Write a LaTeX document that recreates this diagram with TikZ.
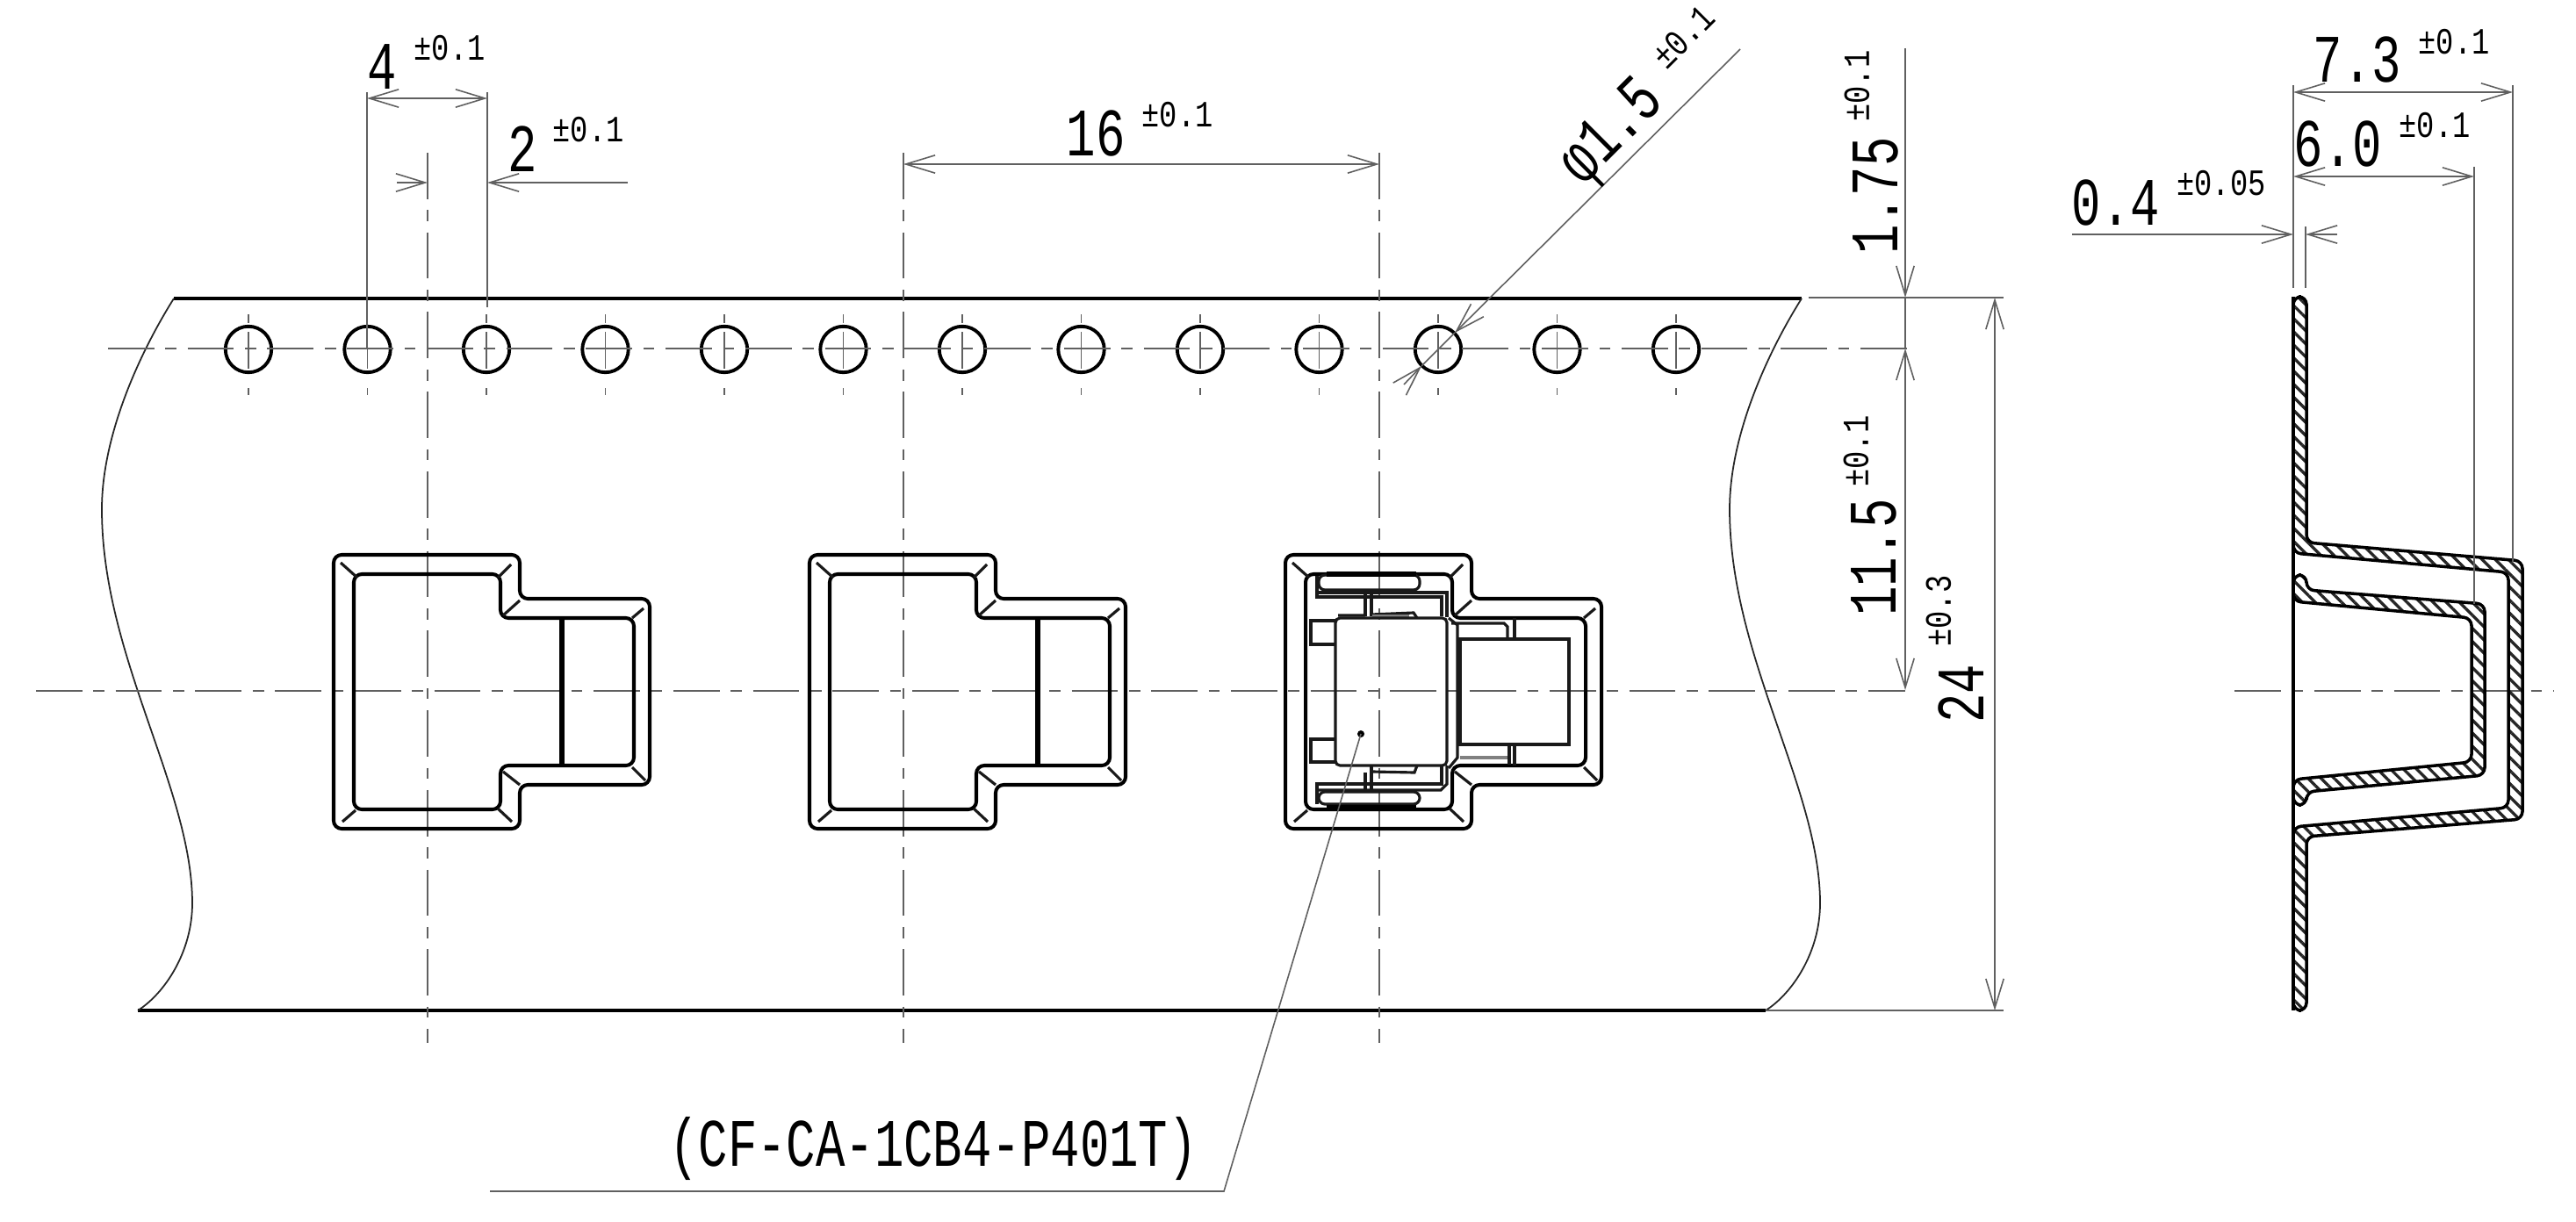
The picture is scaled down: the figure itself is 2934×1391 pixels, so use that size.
\documentclass[tikz,border=0pt]{standalone}
\usepackage{fontspec}
\newfontfamily\dimfont[FakeStretch=0.72]{Liberation Mono}
\newfontfamily\tolfont[FakeStretch=0.8]{Liberation Mono}
\usetikzlibrary{arrows.meta}
\usetikzlibrary{patterns.meta}
\tikzset{
 dimline/.style={gray!75!black, line width=.45pt, >={Straight Barb[length=9.5pt,width=5.8pt]}},
 centerline/.style={gray!75!black, line width=.45pt, dash pattern=on 15pt off 3.6pt on 3.6pt off 3.6pt},
 outline/.style={black, line width=1.15pt, rounded corners=2.6pt},
 detail/.style={black!90, line width=.9pt},
 sheet/.style={black, line width=1pt, pattern={Lines[angle=-45,distance=3pt,line width=.95pt]}, pattern color=black!85},
 dimtext/.style={inner sep=0pt, font=\dimfont\fontsize{22}{24}\selectfont},
 toltext/.style={inner sep=0pt, font=\tolfont\fontsize{12}{14}\selectfont},
}
\begin{document}
\begin{tikzpicture}[x=0.01cm, y=-0.01cm]
\useasboundingbox (0,0) rectangle (2934,1391);
% tape
\draw[black, line width=1.3pt] (198,340)--(2052,340);
\draw[black, line width=1.3pt] (157,1151)--(2011,1151);
\foreach \x in {0, 1854} {
 \draw[black!85, line width=.5pt, xshift=\x*0.01cm] (198,340) .. controls (159,402) and (116,496) .. (116,580) .. controls (116,748) and (219,898) .. (219,1029) .. controls (219,1085) and (187,1132) .. (157,1151);
}
% sprocket holes
\foreach \n in {0,...,12} {
 \pgfmathsetmacro{\hx}{283+135.5*\n}
 \draw[black, line width=1.1pt] (\hx,398) circle[radius=.262cm];
 \draw[dimline] (\hx,358)--(\hx,368) (\hx,378)--(\hx,420) (\hx,442)--(\hx,450);
}
% center lines
\draw[centerline] (123,397)--(2180,397);
\draw[centerline] (41,787)--(2170,787);
\draw[centerline] (2545,787)--(2908,787);
\foreach \x in {487, 1029, 1571} {
 \draw[centerline] (\x,174)--(\x,1188);
}
% pockets
\foreach \x in {487, 1029, 1571} {
 \begin{scope}[shift={(\x,788)}]
 \draw[outline] (-107,-156)--(105,-156)--(105,-106)--(253,-106)--(253,106)--(105,106)--(105,156)--(-107,156)--cycle;
 \draw[outline] (-84,-134)--(83,-134)--(83,-84)--(235,-84)--(235,84)--(83,84)--(83,134)--(-84,134)--cycle;
 \draw[detail] (-99,-147)--(-80,-130) (95,-145)--(80,-130) (105,-104)--(86,-87) (246,-95)--(233,-84);
 \draw[detail] (233,86)--(248,101) (86,91)--(105,106) (80,133)--(96,148) (-82,135)--(-97,148);
 \end{scope}
}
\foreach \x in {487, 1029} {
 \draw[black, line width=1.7pt] (\x+153,704)--(\x+153,872);
}
% connector in third pocket
\begin{scope}[shift={(1571,788)}]
 \draw[detail, rounded corners=2pt] (-69,-133) rectangle (46,-116);
 \draw[black, line width=1.8pt] (-60,-134)--(42,-134);
 \draw[detail] (-71,-132)--(-71,-108)--(71,-108)--(71,-86);
 \draw[detail] (-70,-113)--(77,-113)--(77,-85);
 \draw[detail] (-16,-113)--(-16,-86) (-9,-113)--(-9,-86);
 \draw[detail] (-47,-87)--(-16,-87) (-9,-88)--(39,-90)--(43,-84);
 \draw[gray, line width=1.2pt] (-8,-86)--(34,-86);
 \draw[detail, rounded corners=1.5pt] (-50,-84) rectangle (77,84);
 \draw[detail] (-50,-81)--(-78,-81)--(-78,-54)--(-50,-54);
 \draw[detail] (-50,54)--(-78,54)--(-78,80)--(-50,80);
 \draw[detail] (79,-84)--(89,-76)--(89,75)--(79,87);
 \draw[detail] (82,-78)--(142,-78)--(146,-74)--(146,-61);
 \draw[detail] (154,-84)--(154,-60);
 \draw[detail] (92,-60) rectangle (216,60);
 \draw[gray, line width=1.4pt] (92,75)--(146,75);
 \draw[detail] (148,60)--(148,83) (154,60)--(154,84);
 \draw[detail, rounded corners=2pt] (-69,114) rectangle (46,128);
 \draw[black, line width=1.5pt] (-60,132)--(42,132);
 \draw[detail] (-71,128)--(-71,105)--(71,105)--(71,85);
 \draw[detail] (-71,112)--(70,112)--(77,105)--(77,84);
 \draw[detail] (-16,92)--(-16,112) (-9,85)--(-9,112);
 \draw[detail] (-8,91)--(40,92)--(43,84);
\end{scope}
% side view
\draw[sheet, rounded corners=2.5pt] (2612,338)--(2627,338)--(2627,618)--(2873,639)--(2873,933)--(2627,953)--(2627,1151)--(2612,1151)--(2612,942)--(2857,920)--(2857,652)--(2612,630)--cycle;
\draw[sheet, rounded corners=2.5pt] (2612,655)--(2627,655)--(2627,672)--(2830,688)--(2830,883)--(2627,902)--(2627,917)--(2612,917)--(2612,888)--(2815,868)--(2815,704)--(2612,685)--cycle;
\draw[black, line width=1pt] (2612,338)--(2612,1151);
% leader
\fill[black] (1550,836) circle[radius=.04cm];
\draw[dimline] (1550,836)--(1394,1357)--(558,1357);
\node[dimtext] (partname) at (1063,1308) {(CF-CA-1CB4-P401T)};
% dimensions tape
\draw[dimline] (418,105)--(418,397);
\draw[dimline] (555,105)--(555,350);
\draw[dimline,<->] (418,112)--(555,112);
\node[dimtext] (pitchfour) at (435,76) {4};
\node[toltext] (tolfour) at (512,55) {±0.1};
\draw[dimline,->] (452,208)--(487,208);
\draw[dimline,->] (715,208)--(555,208);
\node[dimtext] (pitchtwo) at (595,170) {2};
\node[toltext] (toltwo) at (670,148) {±0.1};
\draw[dimline,<->] (1029,187)--(1571,187);
\node[dimtext] (pitchpocket) at (1248,152) {16};
\node[toltext] (tolpocket) at (1341,131) {±0.1};
\draw[dimline,->] (1982,56)--(1657,379);
\draw[dimline] (1657,379)--(1619,417);
\draw[dimline,->] (1599,438)--(1619,417);
\node[dimtext, rotate=45] (holedia) at (1838,153) {φ1.5};
\node[toltext, rotate=45] (tolhole) at (1917,42) {±0.1};
\draw[dimline] (2060,339)--(2282,339);
\draw[dimline] (2011,1151)--(2282,1151);
\draw[dimline,->] (2170,55)--(2170,339);
\draw[dimline,<->] (2170,397)--(2170,786);
\draw[dimline] (2170,339)--(2170,397);
\draw[dimline,<->] (2272,339)--(2272,1151);
\node[dimtext, rotate=90] (edgedim) at (2136,223) {1.75};
\node[toltext, rotate=90] (toledge) at (2115,98) {±0.1};
\node[dimtext, rotate=90] (rowdim) at (2134,635) {11.5};
\node[toltext, rotate=90] (tolrow) at (2114,514) {±0.1};
\node[dimtext, rotate=90] (widthdim) at (2234,790) {24};
\node[toltext, rotate=90] (tolwidth) at (2208,696) {±0.3};
% dimensions side view
\draw[dimline] (2612,97)--(2612,328);
\draw[dimline] (2626,258)--(2626,328);
\draw[dimline] (2862,97)--(2862,640);
\draw[dimline] (2818,190)--(2818,688);
\draw[dimline,<->] (2612,105)--(2862,105);
\node[dimtext] (depthouter) at (2685,68) {7.3};
\node[toltext] (tolouter) at (2795,48) {±0.1};
\draw[dimline,<->] (2612,201)--(2818,201);
\node[dimtext] (depthinner) at (2663,164) {6.0};
\node[toltext] (tolinner) at (2773,143) {±0.1};
\draw[dimline,->] (2360,267)--(2612,267);
\draw[dimline,->] (2662,267)--(2626,267);
\node[dimtext] (thickdim) at (2410,231) {0.4};
\node[toltext] (tolthick) at (2530,209) {±0.05};
\end{tikzpicture}
\end{document}
